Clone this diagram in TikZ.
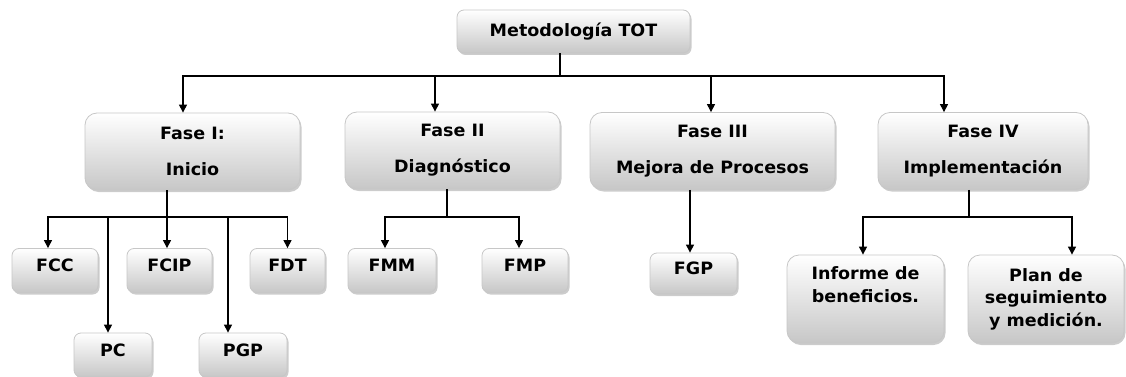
\documentclass[tikz,border=0pt]{standalone}
\usepackage{fontspec}
\newfontfamily\boxfont{DejaVu Sans Bold}[FakeStretch=1.03]
\usetikzlibrary{positioning, arrows.meta, shadows}

\begin{document}
\begin{tikzpicture}[
    x=1pt, y=-1pt,
    box/.style={rectangle, rounded corners=7pt, draw=black!22, line width=0.8pt, top color=white, bottom color=black!22, drop shadow={shadow xshift=1.5pt, shadow yshift=-2pt, fill=black!40, opacity=0.5}, inner sep=0pt, align=center, font=\boxfont\fontsize{17}{22.5}\selectfont},
    fase/.style={box, rounded corners=12pt, minimum height=77pt},
    hoja/.style={box, minimum height=44pt, text depth=10pt},
    informe/.style={box, rounded corners=12pt, minimum height=88pt},
    arrow/.style={-{Triangle[length=8pt, width=8pt]}, line width=1.1pt},
    link/.style={line width=1.1pt}
]
\useasboundingbox (0,0) rectangle (1126,377);

% Root
\node[box, minimum width=233pt, minimum height=43pt] (tot) at (573.5,31.5) {Metodología TOT};

% Phases
\node[fase, minimum width=215pt] (f1) at (192.5,151.5) {Fase I:\\[13.5pt]Inicio};
\node[fase, minimum width=215pt] (f2) at (452.5,150.5) {Fase II\\[13.5pt]Diagnóstico};
\node[fase, minimum width=245pt] (f3) at (712.5,151) {Fase III\\[13.5pt]Mejora de Procesos};
\node[fase, minimum width=210pt] (f4) at (983,151) {Fase IV\\[13.5pt]Implementación};

% Fase I products
\node[hoja, minimum width=86pt] (fcc) at (55,270.5) {FCC};
\node[hoja, minimum width=85pt] (fcip) at (169.5,270.5) {FCIP};
\node[hoja, minimum width=75pt] (fdt) at (287.5,270.5) {FDT};
\node[hoja, minimum width=78pt] (pc) at (113,355) {PC};
\node[hoja, minimum width=88pt] (pgp) at (243,355) {PGP};

% Fase II products
\node[hoja, minimum width=88pt] (fmm) at (392,270.5) {FMM};
\node[hoja, minimum width=86pt] (fmp) at (525,270.5) {FMP};

% Fase III product
\node[hoja, minimum width=87pt, minimum height=41pt] (fgp) at (693.5,273.5) {FGP};

% Fase IV products
\node[informe, minimum width=157pt] (inf) at (865.5,299) {Informe de\\beneficios.\\\strut};
\node[informe, minimum width=156pt] (plan) at (1046,299) {Plan de\\seguimiento\\y medición.};

% Root to phases
\coordinate (bus) at (560,76);
\draw[link] (tot.south -| bus) -- (bus);
\draw[arrow] (bus) -| ([xshift=-9.5pt]f1.north);
\draw[arrow] (bus) -| ([xshift=-17.5pt]f2.north);
\draw[arrow] (bus) -| ([xshift=-1.5pt]f3.north);
\draw[arrow] (bus) -| ([xshift=-39pt]f4.north);

% Phase I
\coordinate (s1) at (167,217);
\draw[link] (f1.south -| s1) -- (s1);
\draw[arrow] (s1) -| ([xshift=-7pt]fcc.north);
\draw[arrow] (s1) -| ([xshift=-5pt]pc.north);
\draw[arrow] (s1) -| ([xshift=-2.5pt]fcip.north);
\draw[arrow] (s1) -| ([xshift=-15pt]pgp.north);
\draw[arrow] (s1) -| (fdt.north);

% Phase II
\coordinate (s2) at (447,217);
\draw[link] (f2.south -| s2) -- (s2);
\draw[arrow] (s2) -| ([xshift=-7pt]fmm.north);
\draw[arrow] (s2) -| ([xshift=-6pt]fmp.north);

% Phase III
\draw[arrow] ([xshift=-22.5pt]f3.south) -- ([xshift=-3.5pt]fgp.north);

% Phase IV
\coordinate (s4) at (969,217);
\draw[link] (f4.south -| s4) -- (s4);
\draw[arrow] (s4) -| ([xshift=-2.5pt]inf.north);
\draw[arrow] (s4) -| ([xshift=26pt]plan.north);

\end{tikzpicture}
\end{document}
